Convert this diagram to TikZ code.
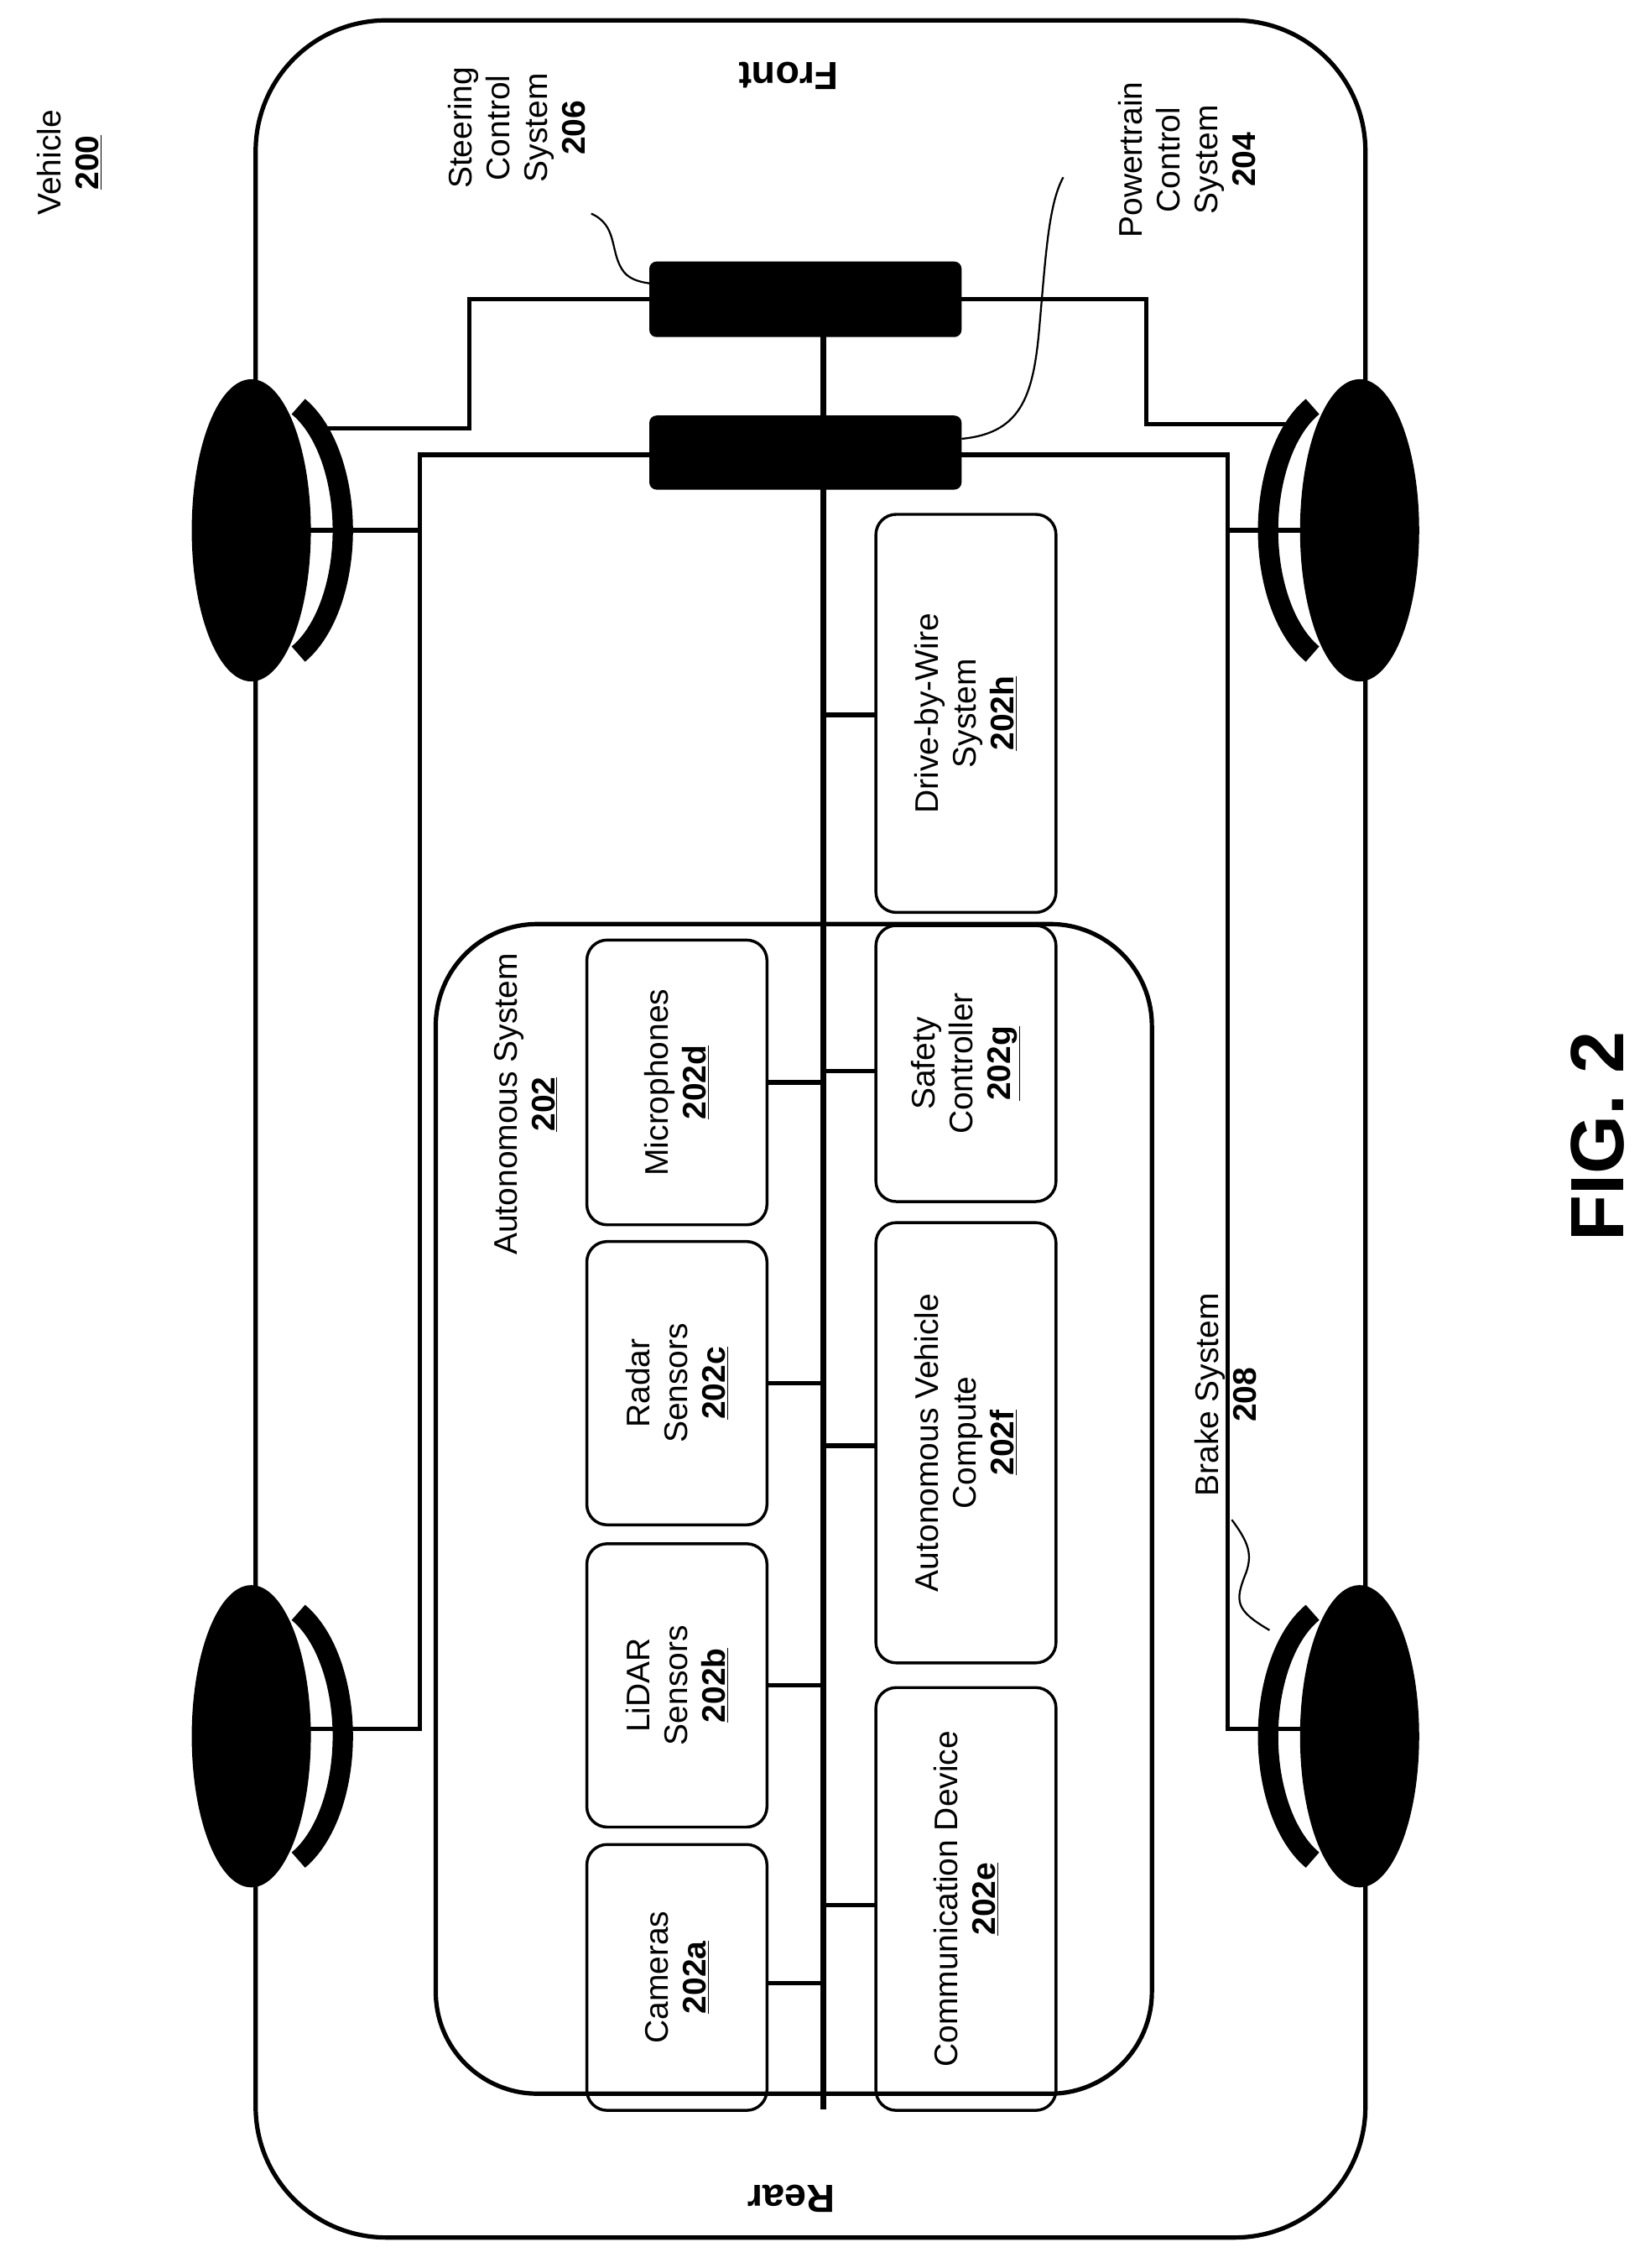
\documentclass[tikz,border=0pt]{standalone}
\usepackage{fontspec}
\setmainfont{Liberation Sans}
\begin{document}
\begin{tikzpicture}[x=1pt,y=-1pt,
  box/.style={draw,line width=2pt,rounded corners=14pt},
  wire/.style={line width=3pt},
  ecu/.style={fill=black,rounded corners=5pt},
  lbl/.style={rotate=90,align=center,font=\fontsize{22.5}{26}\selectfont},
  lead/.style={line width=1.3pt}]
\useasboundingbox (0,0) rectangle (1132,1561);
% body
\draw[line width=3pt,rounded corners=90pt] (176,14) rectangle (940,1540);
% wires
\draw[wire] (447,206) -- (323,206) -- (323,295) -- (215,295);
\draw[wire] (662,206) -- (789,206) -- (789,292) -- (900,292);
\draw[wire] (447,313) -- (289,313) -- (289,1190) -- (200,1190);
\draw[wire] (289,365) -- (200,365);
\draw[wire] (662,313) -- (845,313) -- (845,1190) -- (910,1190);
\draw[wire] (845,365) -- (910,365);
% wheels
\foreach \cx/\cy in {173/365,173/1195}{
  \fill (\cx,\cy) ellipse [x radius=41,y radius=104];
  \draw[line width=14pt] ({\cx+10+cos(65)*53},{\cy-sin(65)*94}) arc[start angle=-65,end angle=65,x radius=53,y radius=94];
}
\foreach \cx/\cy in {936/365,936/1195}{
  \fill (\cx,\cy) ellipse [x radius=41,y radius=104];
  \draw[line width=14pt] ({\cx-10-cos(65)*53},{\cy-sin(65)*94}) arc[start angle=245,end angle=115,x radius=53,y radius=94];
}
% autonomous system
\draw[line width=3pt,rounded corners=70pt] (300,636) rectangle (793,1441);
% bus
\draw[line width=4pt] (567,213) -- (567,1452);
\foreach \y in {1365,1160,952,745}{\draw[wire] (528,\y) -- (567,\y);}
\foreach \y in {1311,995,737,492}{\draw[wire] (567,\y) -- (603,\y);}
% boxes
\node[box,minimum width=124pt,minimum height=183pt] (a) at (466,1361) {};
\node[lbl] at (a) {Cameras\\\textbf{\underline{202a}}};
\node[box,minimum width=124pt,minimum height=195pt] (b) at (466,1160) {};
\node[lbl] at (b) {LiDAR\\Sensors\\\textbf{\underline{202b}}};
\node[box,minimum width=124pt,minimum height=195pt] (c) at (466,952) {};
\node[lbl] at (c) {Radar\\Sensors\\\textbf{\underline{202c}}};
\node[box,minimum width=124pt,minimum height=196pt] (d) at (466,745) {};
\node[lbl] at (d) {Microphones\\\textbf{\underline{202d}}};
\node[box,minimum width=124pt,minimum height=291pt] (e) at (665,1307) {};
\node[lbl] at (e) {Communication Device\\\textbf{\underline{202e}}};
\node[box,minimum width=124pt,minimum height=303pt] (f) at (665,993) {};
\node[lbl] at (f) {Autonomous Vehicle\\Compute\\\textbf{\underline{202f}}};
\node[box,minimum width=124pt,minimum height=190pt] (g) at (665,732) {};
\node[lbl] at (g) {Safety\\Controller\\\textbf{\underline{202g}}};
\node[box,minimum width=124pt,minimum height=274pt] (h) at (665,491) {};
\node[lbl] at (h) {Drive-by-Wire\\System\\\textbf{\underline{202h}}};
% ECUs
\fill[ecu] (447,180) rectangle (662,232);
\fill[ecu] (447,286) rectangle (662,337);
\coordinate (st) at (447,195);
\coordinate (pt) at (662,302);
\coordinate (br) at (874,1122);
% labels
\node[lbl] at (362,760) {Autonomous System\\\textbf{\underline{202}}};
\node[lbl] at (48,112) {Vehicle\\\textbf{\underline{200}}};
\node[lbl] (stl) at (356,88) {Steering\\Control\\System\\\textbf{206}};
\node[lbl] (ptl) at (817,110) {Powertrain\\Control\\System\\\textbf{204}};
\node[lbl] (brl) at (844,960) {Brake System\\\textbf{208}};
\node[rotate=180,font=\fontsize{27}{30}\selectfont\bfseries] at (543,52) {Front};
\node[rotate=180,font=\fontsize{27}{30}\selectfont\bfseries] at (545,1513) {Rear};
\node[rotate=90,font=\fontsize{52}{60}\selectfont\bfseries] at (1100,782) {FIG. 2};
% leaders
\draw[lead] (407,147) .. controls (425,155) and (420,172) .. (428,185) .. controls (432,192) and (440,194) .. (st);
\draw[lead] (732,122) .. controls (722,140) and (720,175) .. (716,220) .. controls (712,270) and (705,298) .. (pt);
\draw[lead] (848,1046) .. controls (860,1062) and (862,1070) .. (858,1082) .. controls (850,1102) and (850,1108) .. (br);
\end{tikzpicture}
\end{document}
